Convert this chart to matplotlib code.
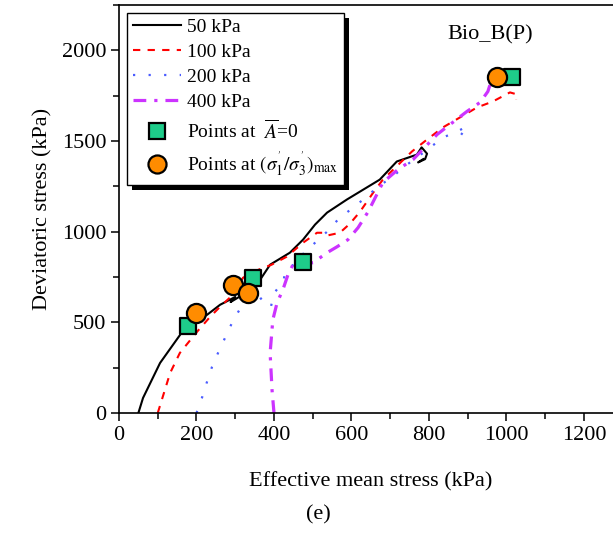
import matplotlib
matplotlib.use("Agg")
import matplotlib.pyplot as plt
from matplotlib.patches import Rectangle
from matplotlib.transforms import IdentityTransform
from matplotlib.lines import Line2D
from matplotlib.ticker import MultipleLocator

plt.rcParams['font.family'] = ['Liberation Serif', 'DejaVu Serif']
plt.rcParams['mathtext.fontset'] = 'stix'

# ---- data ----
p50 = [50, 62, 106, 163, 178, 209, 227, 261, 300, 288, 310, 343, 359, 390, 441, 475, 506, 537, 588, 673, 717, 769, 781, 795, 790, 772, 785]
q50 = [0, 83, 276, 447, 480, 530, 541, 597, 640, 612, 640, 696, 718, 818, 884, 956, 1039, 1105, 1177, 1287, 1387, 1425, 1465, 1430, 1400, 1382, 1400]

p100 = [100, 132, 157, 201, 235, 261, 294, 320, 360, 394, 433, 475, 511, 532, 540, 570, 596, 622, 656, 681, 756, 795, 836, 880, 924, 965, 1009, 1027, 1025]
q100 = [0, 221, 331, 447, 530, 586, 652, 746, 790, 818, 862, 939, 994, 994, 980, 994, 1044, 1110, 1215, 1287, 1442, 1508, 1575, 1630, 1685, 1718, 1768, 1757, 1729]

p200 = [200, 214, 227, 240, 258, 276, 294, 317, 359, 377, 392, 400, 425, 428, 440, 459, 506, 537, 565, 604, 640, 668, 704, 733, 769, 803, 836, 872, 898, 880]
q200 = [0, 83, 171, 254, 343, 425, 508, 591, 652, 600, 585, 660, 730, 773, 790, 845, 939, 1000, 1066, 1133, 1193, 1249, 1298, 1354, 1409, 1464, 1519, 1552, 1580, 1525]

p400 = [400, 395, 390, 397, 408, 423, 436, 449, 462, 501, 537, 563, 591, 617, 643, 681, 720, 759, 821, 898, 932, 952, 962, 1000, 1040]
q400 = [0, 127, 331, 514, 608, 680, 762, 818, 820, 829, 884, 917, 956, 1022, 1110, 1271, 1343, 1398, 1536, 1663, 1713, 1773, 1840, 1850, 1840]

sq_p = [178, 346, 475, 1014]
sq_q = [480, 746, 834, 1851]
ci_p = [199, 294, 333, 975]
ci_q = [552, 707, 663, 1851]

labels = ['50 kPa', '100 kPa', '200 kPa', '400 kPa',
          r'Points at  $\overline{A}$=0',
          r"Points at $(\sigma_1^{'}/\sigma_3^{'})_{\max}$"]

fig = plt.figure(figsize=(6.13, 5.33), dpi=100)
ax = fig.add_axes([119/613, 1-413/533, (622.7-119)/613, (413-5)/533])

l1, = ax.plot(p50, q50, color='black', lw=1.5, ls='-')
l2, = ax.plot(p100, q100, color='red', lw=1.5, ls=(0, (3.5, 3.5)))
l3, = ax.plot(p200, q200, color='#4a5cff', lw=1.6, ls=(0, (1, 6)))
l4, = ax.plot(p400, q400, color='#cc33ff', lw=2.3, ls=(0, (4, 2.5, 1, 2.5)))
s1 = ax.scatter(sq_p, sq_q, marker='s', s=120, facecolor='#1ecc8a', edgecolor='black', linewidth=1.6, zorder=4)
s2 = ax.scatter(ci_p, ci_q, marker='o', s=190, facecolor='#ff8c00', edgecolor='black', linewidth=1.6, zorder=4)

ax.set_xlim(0, 1300)
ax.set_ylim(0, 2250)
ax.xaxis.set_major_locator(MultipleLocator(200))
ax.xaxis.set_minor_locator(MultipleLocator(100))
ax.yaxis.set_major_locator(MultipleLocator(500))
ax.yaxis.set_minor_locator(MultipleLocator(250))
ax.tick_params(which='major', direction='out', length=6, width=1.1, labelsize=16, pad=3)
ax.tick_params(which='minor', direction='out', length=4, width=1.1)
for s in ax.spines.values():
    s.set_linewidth(1.2)

ax.set_xlabel('Effective mean stress (kPa)', fontsize=16, labelpad=20)
ax.set_ylabel('Deviatoric stress (kPa)', fontsize=16, labelpad=7)
ax.text(957, 2088, 'Bio_B(P)', fontsize=16, ha='center', va='center')
fig.text(318/613, 1-515/533, '(e)', fontsize=16, ha='center', va='center')

hs = Line2D([], [], marker='s', ls='none', markersize=11, markerfacecolor='#1ecc8a', markeredgecolor='black', markeredgewidth=1.6)
hc = Line2D([], [], marker='o', ls='none', markersize=13, markerfacecolor='#ff8c00', markeredgecolor='black', markeredgewidth=1.6)
leg = ax.legend([l1, l2, l3, l4, hs, hc], labels, loc='upper left', fontsize=14,
                frameon=True, fancybox=False, edgecolor='black', framealpha=1,
                handlelength=2.5, handletextpad=0.3, borderpad=0.3, labelspacing=0.38,
                borderaxespad=0.4)
leg.get_frame().set_linewidth(1.0)
leg.set_zorder(6)

fig.canvas.draw()
bb = leg.get_window_extent()
sh = Rectangle((bb.x0 + 5, bb.y0 - 5), bb.width, bb.height, transform=IdentityTransform(),
               facecolor='black', edgecolor='none', zorder=5.5, clip_on=False)
ax.add_artist(sh)

fig.savefig('out.png', dpi=100)
